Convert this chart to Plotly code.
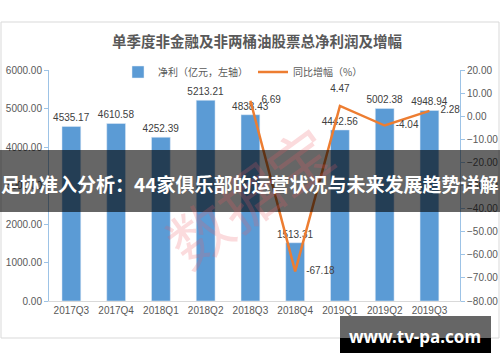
import plotly.graph_objects as go

quarters = ["2017Q3", "2017Q4", "2018Q1", "2018Q2", "2018Q3", "2018Q4", "2019Q1", "2019Q2", "2019Q3"]
net_profit = [4535.17, 4610.58, 4252.39, 5213.21, 4838.43, 1513.31, 4442.56, 5002.38, 4948.94]
growth_quarters = ["2018Q3", "2018Q4", "2019Q1", "2019Q2", "2019Q3"]
growth_pct = [6.69, -67.18, 4.47, -4.04, 2.28]

title_text = "单季度非金融及非两桶油股票总净利润及增幅"
banner_text = "足协准入分析：44家俱乐部的运营状况与未来发展趋势详解"
site_text = "www.tv-pa.com"
watermark_text = "数据宝"

W, H = 500, 362
L, R, T, B = 49, 460, 70, 301


def px(X):
    return (X - L) / (R - L)


def py(Y):
    return (B - Y) / (B - T)


FONT = "Noto Sans CJK SC, Noto Sans, sans-serif"
NUMFONT = "Liberation Sans, Arial, sans-serif"
GREY = "#595959"
BLUE = "#5B9BD5"
ORANGE = "#ED7D31"
AXIS_BLUE = "#9DC3E6"

fig = go.Figure()
fig.add_trace(go.Bar(
    x=quarters, y=net_profit, name="净利（亿元，左轴）",
    marker_color=BLUE, texttemplate="%{y:.2f}", textposition="outside",
    constraintext="none",
    textfont=dict(size=10, color="#404040", family=NUMFONT), cliponaxis=False,
))
fig.add_trace(go.Scatter(
    x=growth_quarters, y=growth_pct, name="同比增幅（%）", yaxis="y2",
    mode="lines+markers+text", line=dict(color=ORANGE, width=2.5),
    marker=dict(size=16, color="rgba(0,0,0,0)"),
    texttemplate="%{y:.2f}",
    textposition=["middle right", "middle right", "top center", "middle right", "middle right"],
    textfont=dict(size=10, color="#404040", family=NUMFONT), cliponaxis=False,
))

shapes = [
    dict(type="rect", xref="paper", yref="paper", x0=px(1), x1=px(499), y0=py(22), y1=py(338),
         line=dict(color="#D9D9D9", width=1), fillcolor="rgba(0,0,0,0)", layer="below"),
    dict(type="rect", xref="paper", yref="paper", x0=px(-5), x1=px(505), y0=py(150), y1=py(212),
         line=dict(width=0), fillcolor="rgba(0,0,0,0.6)", layer="above"),
    dict(type="rect", xref="paper", yref="paper", x0=px(340), x1=px(491), y0=py(316), y1=py(338),
         line=dict(width=0), fillcolor="#666666", layer="above"),
    dict(type="rect", xref="paper", yref="paper", x0=px(340), x1=px(491), y0=py(338), y1=py(353),
         line=dict(width=0), fillcolor="#000000", layer="above"),
]

annotations = [
    dict(text="<b>" + title_text + "</b>", xref="paper", yref="paper", x=px(257), y=py(41),
         xanchor="center", yanchor="middle", showarrow=False,
         font=dict(size=14.5, color=GREY, family=FONT)),
    dict(text=watermark_text, xref="paper", yref="paper", x=px(248), y=py(195),
         xanchor="center", yanchor="middle", showarrow=False, textangle=-36,
         font=dict(size=62, color="rgba(235,90,100,0.22)", family=FONT)),
    dict(text="<b>" + banner_text + "</b>", xref="paper", yref="paper", x=px(249), y=py(183),
         xanchor="center", yanchor="middle", showarrow=False,
         font=dict(size=19, color="white", family=FONT)),
    dict(text="<b>" + site_text + "</b>", xref="paper", yref="paper", x=px(415), y=py(336),
         xanchor="center", yanchor="middle", showarrow=False,
         font=dict(size=17, color="white", family="Noto Sans, sans-serif")),
]

fig.update_layout(
    width=W, height=H, autosize=False,
    margin=dict(l=L, r=W - R, t=T, b=H - B, autoexpand=False),
    paper_bgcolor="white", plot_bgcolor="white",
    font=dict(family=FONT, size=10, color=GREY),
    bargap=0.58,
    showlegend=True,
    legend=dict(orientation="h", x=px(243), xanchor="center", y=py(72), yanchor="middle",
                font=dict(size=10, color=GREY), bgcolor="rgba(0,0,0,0)", itemwidth=30),
    xaxis=dict(showline=True, linecolor="#D9D9D9", linewidth=1, ticks="", showgrid=False,
               automargin=False, tickfont=dict(size=10, color=GREY, family=NUMFONT)),
    yaxis=dict(range=[0, 6000], dtick=1000, tickformat=".2f", showgrid=False, zeroline=False,
               automargin=False,
               showline=True, linecolor=AXIS_BLUE, ticks="outside", tickcolor=AXIS_BLUE, ticklen=4,
               tickfont=dict(size=10, color=GREY, family=NUMFONT)),
    yaxis2=dict(range=[-80, 20], dtick=10, tickformat=".2f", overlaying="y", side="right",
                automargin=False,
                showgrid=False, zeroline=False, showline=True, linecolor=AXIS_BLUE,
                ticks="outside", tickcolor=AXIS_BLUE, ticklen=4,
                tickfont=dict(size=10, color=GREY, family=NUMFONT)),
    shapes=shapes, annotations=annotations,
)

fig.write_html("out.html", config={"displayModeBar": False},
               post_script="document.body.style.margin='0';")
